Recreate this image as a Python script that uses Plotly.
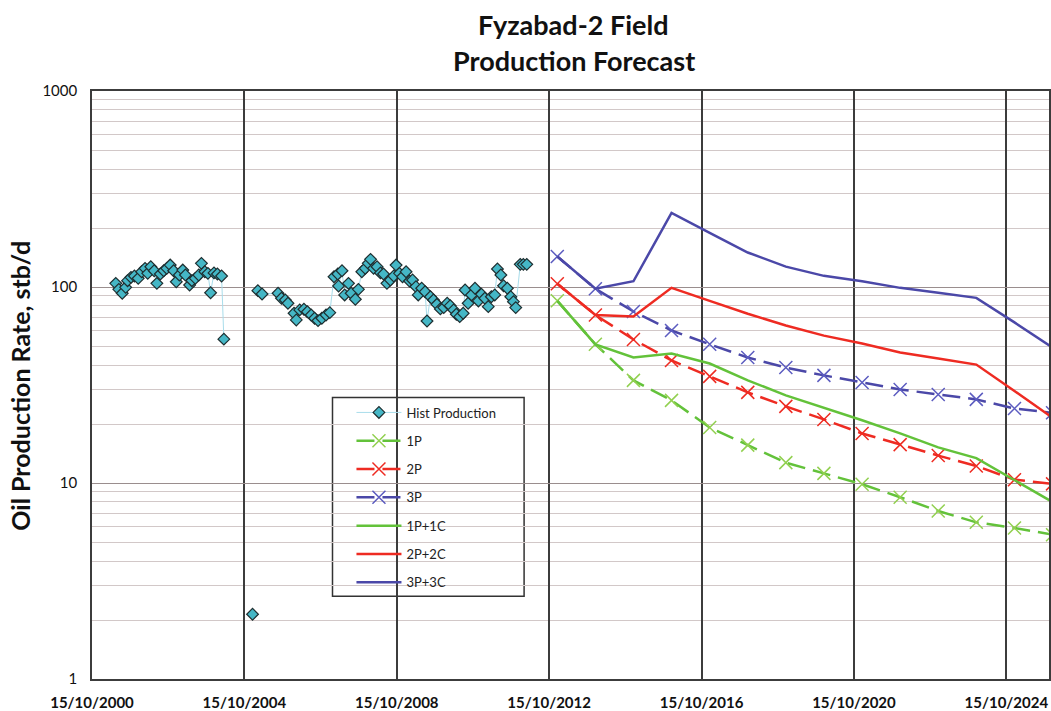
import plotly.graph_objects as go
import pandas as pd

# ---------------- data ----------------
# Historical production: decimal year and oil rate (stb/d)
hist_year = [2001.41, 2001.49, 2001.58, 2001.67, 2001.72, 2001.81, 2001.90, 2002.00, 2002.09, 2002.18,
             2002.25, 2002.33, 2002.42, 2002.49, 2002.58, 2002.67, 2002.75, 2002.84, 2002.93, 2003.00,
             2003.08, 2003.17, 2003.24, 2003.35, 2003.41, 2003.50, 2003.59, 2003.66, 2003.75, 2003.83,
             2003.90, 2003.99, 2004.08, 2004.19, 2004.25,
             None, 2005.00, None,
             2005.14, 2005.25, 2005.67, 2005.76, 2005.86, 2005.93, 2006.09, 2006.15, 2006.24, 2006.35,
             2006.44, 2006.54, 2006.63, 2006.72, 2006.82, 2006.93, 2007.03, 2007.14, 2007.24, 2007.26,
             2007.35, 2007.42, 2007.52, 2007.59, 2007.70, 2007.78, 2007.87, 2007.96, 2008.04, 2008.10,
             2008.18, 2008.27, 2008.36, 2008.44, 2008.53, 2008.62, 2008.71, 2008.77,
             2008.86, 2008.94, 2009.03, 2009.12, 2009.20, 2009.29, 2009.35, 2009.44, 2009.53, 2009.58,
             2009.67, 2009.75, 2009.84, 2009.93, 2010.02, 2010.11, 2010.19, 2010.28, 2010.35, 2010.44,
             2010.53, 2010.58, 2010.66, 2010.75, 2010.84, 2010.93, 2011.01, 2011.10, 2011.19, 2011.27,
             2011.36, 2011.43, 2011.52, 2011.59, 2011.69, 2011.78, 2011.85, 2011.91, 2012.03, 2012.11,
             2012.20]
hist_rate = [104.4, 97.3, 92.9, 99.6, 107.7, 112.0, 113.8, 110.7, 119.6, 124.5,
             117.4, 126.9, 121.0, 104.4, 116.5, 121.0, 124.5, 129.4, 121.0, 106.4,
             115.1, 122.0, 115.1, 102.4, 107.7, 110.7, 115.1, 132.0, 119.6, 117.4,
             93.5, 118.0, 116.5, 113.8, 54.2,
             None, 2.14, None,
             95.8, 92.1, 92.9, 87.6, 85.8, 82.6, 73.5, 67.9, 76.4, 77.0,
             74.8, 72.0, 69.3, 67.4, 69.3, 72.0, 74.0, 112.8, 116.5, 101.2,
             121.0, 91.1, 104.4, 92.9, 86.6, 97.3, 119.6, 124.5, 132.0, 138.4,
             124.5, 126.9, 118.0, 116.5, 104.4, 108.6, 113.8, 129.4,
             117.4, 112.8, 119.6, 107.3, 108.6, 100.4, 91.1, 98.5, 94.6, 67.1,
             89.2, 85.8, 81.6, 77.3, 78.5, 82.6, 80.3, 76.4, 72.6, 70.6,
             73.5, 96.5, 82.6, 91.1, 98.5, 84.9, 91.8, 87.6, 79.4, 89.2,
             91.1, 123.5, 115.1, 101.5, 98.5, 89.2, 84.2, 78.5, 130.5, 130.5,
             130.5]

forecast_dates = ["2013-01-01", "2014-01-01", "2015-01-01", "2016-01-01", "2017-01-01",
                  "2018-01-01", "2019-01-01", "2020-01-01", "2021-01-01", "2022-01-01",
                  "2023-01-01", "2024-01-01", "2025-01-01", "2026-01-01"]
rate_1p = [85, 51, 33.4, 26.4, 19.2, 15.6, 12.7, 11.2, 9.85, 8.46, 7.2, 6.3, 5.9, 5.45]
rate_2p = [104, 72, 54, 42.2, 35, 29, 24.6, 21.1, 17.9, 15.7, 13.8, 12.2, 10.4, 9.9]
rate_3p = [143, 98, 75, 60, 51, 43.7, 38.8, 35.4, 32.6, 30.0, 28.3, 26.7, 24.0, 22.8]
rate_1p1c = [85, 51, 43.7, 45.8, 40.7, 33.4, 28, 24.3, 20.9, 17.9, 15.2, 13.4, 10.3, 8.0]
rate_2p2c = [104, 72, 70.7, 99, 85, 73, 63.6, 56.5, 51.5, 46.3, 43.2, 40.2, 29.5, 21.5]
rate_3p3c = [143, 98, 107, 239, 189, 150, 127, 114, 107, 99, 93.5, 88, 66, 49]

x_tick_dates = ["2000-10-15", "2004-10-15", "2008-10-15", "2012-10-15",
                "2016-10-15", "2020-10-15", "2024-10-15"]
x_tick_labels = ["15/10/2000", "15/10/2004", "15/10/2008", "15/10/2012",
                 "15/10/2016", "15/10/2020", "15/10/2024"]
y_tick_vals = [1, 10, 100, 1000]
y_tick_labels = ["1", "10", "100", "1000"]


def yr_to_date(y):
    if y is None:
        return None
    year = int(y)
    return pd.Timestamp(year=year, month=1, day=1) + pd.Timedelta(days=(y - year) * 365.25)


hist_dates = [yr_to_date(v) for v in hist_year]

# ---------------- styling ----------------
FONT = "Lato, 'Open Sans', sans-serif"
GREEN = "#63C23A"
GREEN_MK = "#92D050"
RED = "#EE2B22"
BLUE = "#4B48A8"
BLUE_MK = "#5C5CC0"
DASH = "18px,8px"

W, H = 1051, 711
L, R, T, B = 92, 0, 91, 31
PW, PH = W - L - R, H - T - B


def px_x(px):
    return (px - L) / PW


def px_y(py):
    return (H - B - py) / PH


fig = go.Figure()

fig.add_trace(go.Scatter(
    x=hist_dates, y=hist_rate, name="Hist Production", mode="lines+markers",
    line=dict(color="#A9DDEB", width=1), connectgaps=False,
    marker=dict(symbol="diamond", size=9, color="#45B7C6",
                line=dict(color="#1E2E30", width=1.2)),
    legendgroup="g0"))

fig.add_trace(go.Scatter(
    x=forecast_dates, y=rate_1p, name="1P", mode="lines+markers",
    line=dict(color=GREEN, width=2.5, dash=DASH),
    marker=dict(symbol="x-thin", size=13, line=dict(color=GREEN_MK, width=1.5)),
    legendgroup="g1"))
fig.add_trace(go.Scatter(
    x=forecast_dates, y=rate_2p, name="2P", mode="lines+markers",
    line=dict(color=RED, width=2.5, dash=DASH),
    marker=dict(symbol="x-thin", size=13, line=dict(color=RED, width=1.5)),
    legendgroup="g2"))
fig.add_trace(go.Scatter(
    x=forecast_dates, y=rate_3p, name="3P", mode="lines+markers",
    line=dict(color=BLUE, width=2.5, dash=DASH),
    marker=dict(symbol="x-thin", size=13, line=dict(color=BLUE_MK, width=1.5)),
    legendgroup="g3"))
fig.add_trace(go.Scatter(
    x=forecast_dates, y=rate_1p1c, name="1P+1C", mode="lines",
    line=dict(color=GREEN, width=2.5), legendgroup="g4"))
fig.add_trace(go.Scatter(
    x=forecast_dates, y=rate_2p2c, name="2P+2C", mode="lines",
    line=dict(color=RED, width=2.5), legendgroup="g5"))
fig.add_trace(go.Scatter(
    x=forecast_dates, y=rate_3p3c, name="3P+3C", mode="lines",
    line=dict(color=BLUE, width=2.5), legendgroup="g6"))

minor_y = [m * d for d in (1, 10, 100) for m in range(2, 10)]

fig.update_layout(
    width=W, height=H,
    margin=dict(l=L, r=R, t=T, b=B, pad=0),
    paper_bgcolor="white", plot_bgcolor="white",
    font=dict(family=FONT, color="#1a1a1a"),
    showlegend=True,
    legend=dict(x=px_x(352), y=px_y(398), xanchor="left", yanchor="top",
                bgcolor="rgba(0,0,0,0)", borderwidth=0,
                font=dict(family=FONT, size=13, color="#222"),
                tracegroupgap=8.4, itemwidth=45),
    xaxis=dict(
        type="date", range=["2000-10-15", "2025-11-28"],
        tickvals=x_tick_dates, ticktext=x_tick_labels,
        showgrid=True, gridcolor="#3C3C3C", gridwidth=1.6,
        showline=True, linecolor="#3C3C3C", linewidth=1.6, mirror=True,
        ticks="", ticklabelstandoff=9,
        tickfont=dict(family=FONT, size=15, color="#111", weight="bold"),
        zeroline=False,
    ),
    yaxis=dict(
        type="log", range=[0, 3],
        tickvals=y_tick_vals, ticktext=y_tick_labels,
        showgrid=True, gridcolor="#9A8E8E", gridwidth=1.2,
        minor=dict(tickvals=minor_y, showgrid=True, gridcolor="#D2C8C8", gridwidth=1, ticks=""),
        showline=True, linecolor="#3C3C3C", linewidth=1.6, mirror=True,
        ticks="", ticklabelstandoff=10,
        tickfont=dict(family=FONT, size=15, color="#111"),
        zeroline=False,
    ),
    shapes=[dict(type="rect", xref="paper", yref="paper",
                 x0=px_x(333), x1=px_x(525), y0=px_y(597), y1=px_y(398),
                 fillcolor="white", line=dict(color="#333", width=1.5), layer="between")],
    annotations=[
        dict(text="<b>Fyzabad-2 Field</b>", xref="paper", yref="paper",
             x=px_x(575), y=px_y(24), xanchor="center", yanchor="middle",
             showarrow=False, font=dict(family=FONT, size=27, color="#111")),
        dict(text="<b>Production Forecast</b>", xref="paper", yref="paper",
             x=px_x(575), y=px_y(60), xanchor="center", yanchor="middle",
             showarrow=False, font=dict(family=FONT, size=27, color="#111")),
        dict(text="<b>Oil Production Rate, stb/d</b>", xref="paper", yref="paper",
             x=px_x(20), y=px_y(386), xanchor="center", yanchor="middle", textangle=-90,
             showarrow=False, font=dict(family=FONT, size=25, color="#111")),
    ],
)

fig.write_html("out.html")
